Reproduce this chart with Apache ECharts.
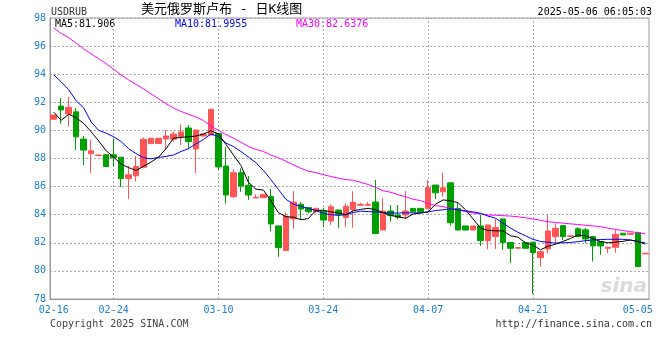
<!DOCTYPE html>
<html><head><meta charset="utf-8">
<script src="https://cdn.jsdelivr.net/npm/echarts@6/dist/echarts.min.js"></script>
<style>html,body{margin:0;padding:0;background:#fff}#c{width:660px;height:360px}</style>
</head><body><div id="c"></div>
<script>
const dates = ['02-16','02-17','02-18','02-19','02-20','02-21','02-22','02-23','02-24','02-25','02-26','02-27','02-28',
'03-01','03-02','03-03','03-04','03-05','03-06','03-07','03-08','03-09','03-10','03-11','03-12','03-13','03-14','03-15','03-16','03-17','03-18','03-19','03-20','03-21','03-22','03-23','03-24','03-25','03-26','03-27','03-28','03-29','03-30','03-31',
'04-01','04-02','04-03','04-04','04-05','04-06','04-07','04-08','04-09','04-10','04-11','04-12','04-13','04-14','04-15','04-16','04-17','04-18','04-19','04-20','04-21','04-22','04-23','04-24','04-25','04-26','04-27','04-28','04-29','04-30',
'05-01','05-02','05-03','05-04','05-05','05-06'];
const opens = [90.80,91.73,91.16,91.32,89.38,88.34,88.21,88.27,88.26,88.09,86.58,86.77,87.38,89.06,89.07,89.39,89.37,89.55,90.17,88.68,
89.60,89.67,89.79,87.46,85.28,86.99,86.10,85.19,85.21,85.28,83.20,81.45,83.70,84.74,84.50,84.21,84.26,83.55,84.33,83.80,
84.38,84.67,84.67,84.90,82.91,84.26,83.98,83.98,84.45,84.45,84.45,86.11,85.63,86.27,84.45,83.20,82.91,83.20,82.15,82.44,
83.70,82.02,81.61,82.02,82.04,80.94,81.56,82.44,83.22,82.46,83.00,82.92,82.44,82.08,81.61,81.68,82.68,82.61,82.72,81.21];
const closes = [91.09,91.45,91.64,89.54,88.60,88.55,88.25,87.43,88.06,86.57,86.84,87.43,89.37,89.44,89.44,89.60,89.74,89.89,89.20,90.03,
89.74,91.50,87.40,85.40,86.99,86.04,85.40,85.24,85.45,83.34,81.65,83.90,84.90,84.40,84.21,84.45,83.62,84.57,84.02,84.60,
84.88,84.74,84.74,82.65,84.26,83.93,83.82,84.26,84.21,84.21,85.92,85.56,85.92,83.43,82.91,82.91,83.20,82.15,83.27,83.08,
82.02,81.61,81.66,81.61,81.30,81.37,82.84,83.03,82.44,82.50,82.44,82.27,81.78,81.78,81.68,82.60,82.56,82.68,80.30,81.26];
const lows = [90.78,90.47,90.26,88.60,87.53,86.98,88.20,87.42,87.43,85.96,85.11,86.36,87.36,89.05,89.06,88.60,89.20,88.96,88.66,86.96,
89.58,89.66,87.18,84.80,85.20,85.63,85.05,85.18,85.20,82.80,81.00,81.44,83.00,83.67,84.10,84.10,83.10,83.27,83.03,83.15,
83.08,84.66,84.66,82.64,82.90,83.50,83.67,83.67,84.20,84.20,84.44,85.10,85.28,83.22,82.90,82.90,82.90,81.78,81.54,81.56,
81.50,80.55,81.60,81.60,78.34,80.30,81.26,81.97,82.20,82.45,82.40,81.97,80.66,81.14,81.26,81.30,82.55,82.60,80.29,81.20];
const highs = [91.12,92.30,92.38,91.60,89.60,89.35,88.26,88.30,89.39,88.10,87.48,88.18,89.48,89.45,89.45,90.03,89.91,90.43,90.38,90.04,
89.76,91.52,89.80,88.83,87.25,87.30,86.75,85.45,85.46,85.83,83.21,84.17,85.68,84.92,84.55,84.50,84.50,84.74,84.38,84.81,
85.68,84.85,84.90,86.47,85.17,84.69,84.69,85.68,84.46,84.46,86.47,86.12,86.99,86.28,84.92,83.21,83.21,83.98,83.28,83.70,
83.71,82.03,81.67,82.03,82.05,81.38,84.00,83.39,83.23,82.52,83.10,83.06,82.45,82.10,81.70,82.91,82.69,82.69,82.79,81.27];
const ma5 = [91.30,90.72,91.15,90.90,90.50,89.90,89.25,88.55,88.10,87.60,87.35,87.15,87.45,87.75,88.10,88.70,89.45,89.50,89.55,89.60,
89.75,89.97,89.75,89.00,88.25,87.50,86.30,85.82,85.75,85.00,84.15,83.86,83.82,83.65,83.72,84.30,84.32,84.20,84.12,84.00,
84.28,84.38,84.45,84.35,84.15,83.95,83.85,83.75,84.05,84.12,84.20,84.75,85.05,85.00,84.85,84.35,83.70,83.05,82.88,82.85,
82.85,82.50,82.40,82.00,81.85,81.50,81.75,81.90,82.10,82.30,82.55,82.50,82.30,82.10,82.00,82.05,82.10,82.20,82.10,81.906];
const ma10 = [93.95,93.45,92.90,92.10,91.60,90.60,90.00,89.80,89.55,89.20,88.70,88.35,88.05,87.98,88.08,88.15,88.25,88.50,88.70,89.05,
89.35,89.75,89.55,89.10,88.85,88.50,88.10,87.70,87.15,86.50,85.80,85.10,84.75,84.60,84.45,84.30,84.10,84.00,83.95,84.00,
84.15,84.25,84.22,84.20,84.15,84.12,84.12,84.13,84.13,84.13,84.20,84.30,84.35,84.42,84.35,84.28,84.20,84.10,83.90,83.75,
83.40,83.05,82.75,82.50,82.25,82.10,82.03,81.98,82.00,82.02,82.08,82.15,82.20,82.23,82.25,82.25,82.25,82.20,82.08,81.9955];
const ma30 = [97.30,96.90,96.60,96.20,95.80,95.45,95.10,94.75,94.35,93.95,93.60,93.27,92.95,92.60,92.25,91.90,91.60,91.35,91.15,90.95,
90.70,90.30,90.00,89.70,89.45,89.15,88.85,88.65,88.50,88.25,88.05,87.80,87.55,87.30,87.10,87.00,86.85,86.72,86.60,86.50,
86.45,86.30,86.15,85.95,85.70,85.60,85.42,85.28,85.10,85.00,84.80,84.65,84.57,84.45,84.35,84.22,84.12,84.05,83.98,83.96,
83.93,83.90,83.85,83.78,83.70,83.60,83.50,83.45,83.40,83.35,83.30,83.25,83.20,83.15,83.05,82.95,82.87,82.80,82.72,82.6376];
const maLabels = ['MA5:81.906','MA10:81.9955','MA30:82.6376'];
const xTickLabels = ['02-16','02-24','03-10','03-24','04-07','04-21','05-05'];
const xGridDates = ['02-24','03-10','03-24','04-07','04-21'];
const yMin = 78, yMax = 98, yStep = 2;

const ohlc = dates.map((d, i) => [opens[i], closes[i], lows[i], highs[i]]);
const MONO = '"DejaVu Sans Mono", monospace';
const BLUE = '#1a80d0';
const chart = echarts.init(document.getElementById('c'), null, {renderer: 'canvas'});
chart.setOption({
  animation: false,
  backgroundColor: '#fff',
  grid: {left: 50, right: 11, top: 18, bottom: 61, show: true, borderColor: '#999', borderWidth: 1},
  xAxis: {
    type: 'category', data: dates, boundaryGap: true,
    axisLine: {show: true, lineStyle: {color: '#999'}},
    axisTick: {show: false},
    splitLine: {show: false},
    axisLabel: {
      interval: (idx, val) => xTickLabels.indexOf(val) >= 0,
      color: BLUE, fontFamily: MONO, fontSize: 10, margin: 6,
      showMinLabel: true, showMaxLabel: true, hideOverlap: false
    }
  },
  yAxis: {
    type: 'value', min: yMin, max: yMax, interval: yStep, scale: true,
    axisLine: {show: true, lineStyle: {color: '#999'}},
    axisTick: {show: false},
    splitLine: {show: true, lineStyle: {color: '#aaa', type: [2, 2], width: 1}},
    axisLabel: {color: BLUE, fontFamily: MONO, fontSize: 10, margin: 4}
  },
  series: [
    {
      type: 'candlestick', data: ohlc, barWidth: 6, z: 3,
      itemStyle: {color: '#ff5555', color0: '#00a000', borderColor: '#ff5555', borderColor0: '#00a000', borderWidth: 1},
      markLine: {
        silent: true, symbol: ['none', 'none'], z: 1, animation: false,
        label: {show: false},
        lineStyle: {color: '#aaa', type: [2, 2], width: 1},
        emphasis: {disabled: true},
        data: xGridDates.map(d => ({xAxis: d}))
      }
    },
    {type: 'line', data: ma30, showSymbol: false, symbol: 'none', z: 4, lineStyle: {color: '#ff00ff', width: 1}, itemStyle: {color: '#ff00ff'}},
    {type: 'line', data: ma10, showSymbol: false, symbol: 'none', z: 4, lineStyle: {color: '#0000ff', width: 1}, itemStyle: {color: '#0000ff'}},
    {type: 'line', data: ma5, showSymbol: false, symbol: 'none', z: 4, lineStyle: {color: '#000000', width: 1}, itemStyle: {color: '#000'}}
  ],
  graphic: [
    {type: 'text', x: 51, y: 12, style: {text: 'USDRUB', fill: '#333', font: '10px ' + MONO, align: 'left', verticalAlign: 'middle'}},
    {type: 'text', x: 141, y: 10, style: {text: '美元俄罗斯卢布 - 日K线图', fill: '#000', font: '13px "DejaVu Sans Mono", "Noto Sans CJK SC"', align: 'left', verticalAlign: 'middle'}},
    {type: 'text', x: 652, y: 12, style: {text: '2025-05-06 06:05:03', fill: '#000', font: '10px ' + MONO, align: 'right', verticalAlign: 'middle'}},
    {type: 'text', x: 55, y: 24, style: {text: maLabels[0], fill: '#000', font: '10px ' + MONO, align: 'left', verticalAlign: 'middle'}},
    {type: 'text', x: 175, y: 24, style: {text: maLabels[1], fill: '#0000ff', font: '10px ' + MONO, align: 'left', verticalAlign: 'middle'}},
    {type: 'text', x: 296, y: 24, style: {text: maLabels[2], fill: '#ff00ff', font: '10px ' + MONO, align: 'left', verticalAlign: 'middle'}},
    {type: 'text', x: 50, y: 324, style: {text: 'Copyright 2025 SINA.COM', fill: '#444', font: '10px ' + MONO, align: 'left', verticalAlign: 'middle'}},
    {type: 'text', x: 652, y: 324, style: {text: 'http://finance.sina.com.cn', fill: '#333', font: '10px ' + MONO, align: 'right', verticalAlign: 'middle'}},
    {type: 'text', x: 647, y: 287, z: 0, style: {text: 'sina', fill: 'rgba(150,150,150,0.35)', font: 'italic bold 20px "DejaVu Sans"', align: 'right', verticalAlign: 'middle'}}
  ]
});
</script></body></html>
